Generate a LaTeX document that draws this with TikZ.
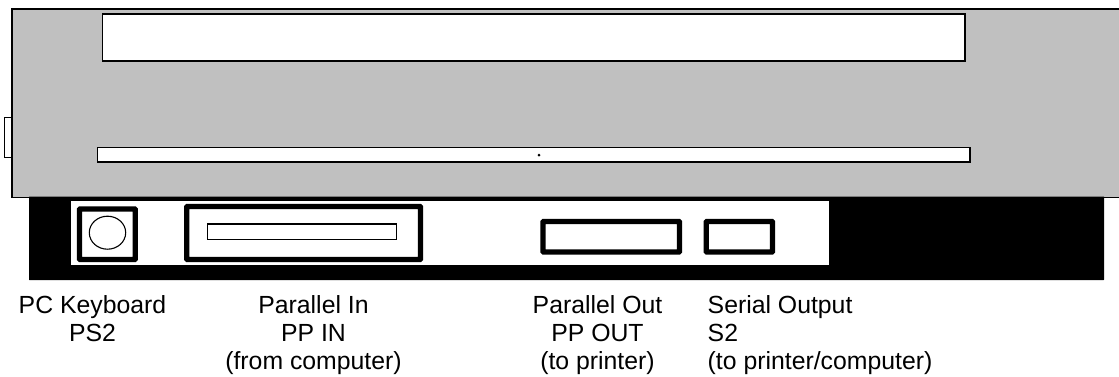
\documentclass[tikz,border=0pt]{standalone}
\usepackage{fontspec}
\setmainfont{Liberation Sans}
\definecolor{casegray}{RGB}{192,192,192}
\tikzset{
  px/.style={x=1pt,y=-1pt},
  panelbox/.style={draw=black,line width=1.6pt,fill=white},
  portbox/.style={draw=black,line width=5.3pt,fill=white,rounded corners=0.6pt},
  lbl/.style={font=\fontsize{24.8}{28.4}\selectfont,align=center,inner sep=0pt,anchor=north},
  lblleft/.style={font=\fontsize{24.8}{28.4}\selectfont,align=left,inner sep=0pt,anchor=north west},
}
\begin{document}
\begin{tikzpicture}[px]
\useasboundingbox (0,0) rectangle (1119,376);
% side tab
\draw[fill=white,line width=1pt] (4.5,117.5) rectangle (12.5,157.5);
% case
\fill[casegray] (12,9) rectangle (1119,197.5);
\draw[line width=1.6pt] (1119,9) -- (12,9) -- (12,197.5) -- (1119,197.5);
\draw[panelbox] (102.5,14) rectangle (965,61);
\draw[panelbox] (97.5,147.5) rectangle (970,162);
\fill (539,155) circle (1.5);
% black backplate
\fill[rounded corners=0.5pt] (29,196.5) rectangle (1104,280);
\fill[white] (70.5,200.5) rectangle (828.5,265);
% ports
\draw[portbox] (79.5,209) rectangle (135.3,259.5);
\draw[line width=1.1pt,fill=white] (107.5,232.7) ellipse (18.2 and 16.5);
\draw[portbox] (186.7,206.5) rectangle (420.5,259.5);
\draw[panelbox,line width=1.3pt] (207.6,224) rectangle (396.5,239.3);
\draw[portbox] (543,221.5) rectangle (679.5,252);
\draw[portbox] (706.3,221.5) rectangle (772.5,252);
% labels
\node[lbl] (kb) at (92.5,295) {PC Keyboard\\PS2};
\node[lbl] (pin) at (313.5,295) {Parallel In\\PP IN\\(from computer)};
\node[lbl] (pout) at (597.5,295) {Parallel Out\\PP OUT\\(to printer)};
\node[lblleft] (ser) at (707.5,295) {Serial Output\\S2\\(to printer/computer)};
\end{tikzpicture}
\end{document}
